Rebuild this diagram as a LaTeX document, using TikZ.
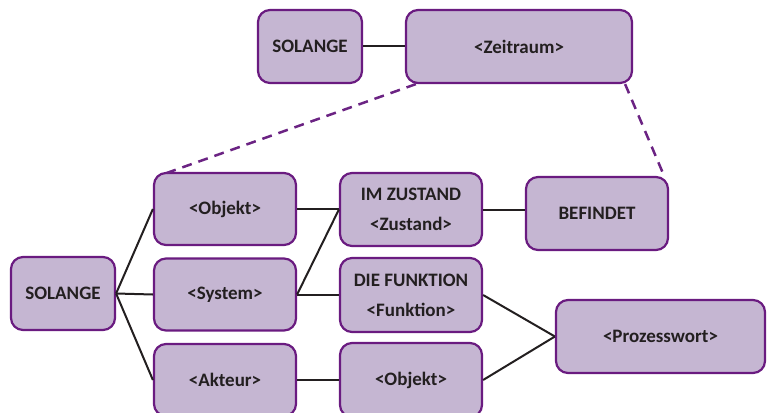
\documentclass[tikz,border=0pt]{standalone}
\usepackage{fontspec}
\setmainfont{Carlito}
\usetikzlibrary{calc}
\definecolor{boxfill}{HTML}{C5B6D2}
\definecolor{boxdraw}{HTML}{6A1B80}
\definecolor{dashcol}{HTML}{6B2383}
\definecolor{txt}{HTML}{231F20}
\tikzset{
  pbox/.style={draw=boxdraw, fill=boxfill, line width=2.2pt, rounded corners=12pt,
    inner sep=0pt, text=txt, font=\bfseries\fontsize{19}{23}\selectfont, align=center},
  link/.style={draw=txt, line width=2pt},
  dlink/.style={draw=dashcol, line width=2.5pt, dash pattern=on 10pt off 7pt},
}
\begin{document}
\begin{tikzpicture}[x=1pt,y=-1pt]
\useasboundingbox (0,0) rectangle (767,412);
\node[pbox, minimum width=104pt, minimum height=73pt] (sol1) at (310,46.5) {SOLANGE};
\node[pbox, minimum width=226pt, minimum height=73pt] (zeit) at (519,46.5) {<Zeitraum>};
\node[pbox, minimum width=104pt, minimum height=73pt] (sol2) at (63,293.5) {SOLANGE};
\node[pbox, minimum width=142pt, minimum height=72pt] (obj1) at (225,209) {<Objekt>};
\node[pbox, minimum width=142pt, minimum height=72pt] (sys) at (225,294.5) {<System>};
\node[pbox, minimum width=142pt, minimum height=72pt] (akt) at (225,380) {<Akteur>};
\node[pbox, minimum width=142pt, minimum height=73pt] (zust) at (411,209.5) {IM ZUSTAND\\[7pt]<Zustand>};
\node[pbox, minimum width=142pt, minimum height=73pt] (bef) at (597,213.5) {BEFINDET};
\node[pbox, minimum width=142pt, minimum height=74pt] (funk) at (411,295) {DIE FUNKTION\\[7pt]<Funktion>};
\node[pbox, minimum width=142pt, minimum height=74pt] (obj2) at (411,380) {<Objekt>};
\node[pbox, minimum width=209pt, minimum height=73pt] (proz) at (660.5,336.5) {<Prozesswort>};
\draw[link] (sol1.east) -- (zeit.west);
\draw[link] (sol2.east) -- (obj1.west);
\draw[link] (sol2.east) -- (sys.west);
\draw[link] (sol2.east) -- (akt.west);
\draw[link] (obj1.east) -- (obj1.east -| zust.west);
\draw[link] (sys.east) -- (zust.west);
\draw[link] (sys.east) -- (sys.east -| funk.west);
\draw[link] (akt.east) -- (obj2.west);
\draw[link] (zust.east) -- (zust.east -| bef.west);
\draw[link] (funk.east) -- (proz.west);
\draw[link] (obj2.east) -- (proz.west);
\draw[dlink] ([xshift=11pt]zeit.south west) -- ([xshift=14pt,yshift=-1pt]obj1.north west);
\draw[dlink] ([xshift=-8pt]zeit.south east) -- ([xshift=-5pt]bef.north east);
\end{tikzpicture}
\end{document}
